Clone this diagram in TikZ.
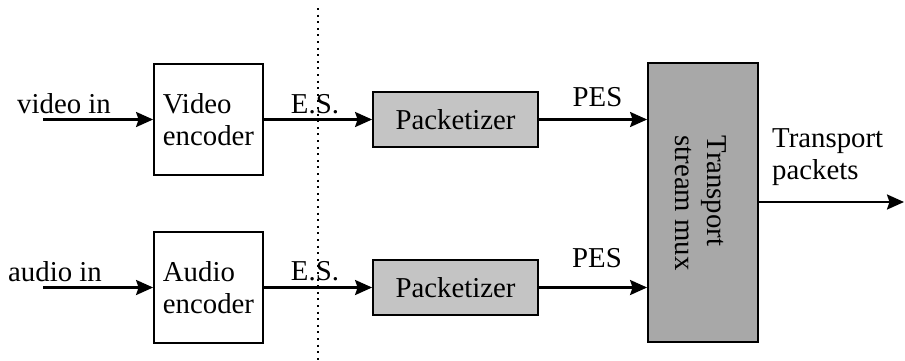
\documentclass[tikz,border=0pt]{standalone}
\usepackage{fontspec}
\setmainfont{Liberation Serif}
\usetikzlibrary{arrows.meta}
\definecolor{pktgray}{gray}{0.77}
\definecolor{muxgray}{gray}{0.66}
\begin{document}
\begin{tikzpicture}[x=1pt,y=-1pt,
  every node/.style={font=\fontsize{28.8}{32}\selectfont, inner sep=0pt},
  enc/.style={draw, line width=1.8pt, minimum width=109pt, minimum height=111pt, align=left},
  pkt/.style={draw, line width=1.8pt, fill=pktgray, minimum width=165pt, minimum height=55pt},
  mux/.style={draw, line width=1.8pt, fill=muxgray, minimum width=110pt, minimum height=279pt},
  conn/.style={line width=2.4pt, -{Stealth[length=17pt,width=15pt,inset=2.5pt]}},
  sep/.style={line width=2pt, dash pattern=on 2pt off 4.6pt}]
\useasboundingbox (0,0) rectangle (905,360);
% blocks
\node[enc] (venc) at (208.5,119.5) {Video\\encoder};
\node[enc] (aenc) at (208.5,287.5) {Audio\\encoder};
\node[pkt] (vpk) at (455.5,119.5) {Packetizer};
\node[pkt] (apk) at (455.5,287.5) {Packetizer};
\node[mux] (mux) at (703,202.5) {};
\node[rotate=-90, align=left] (muxt) at (701,203) {Transport\\stream mux};
% free ends
\coordinate (vin) at (43,119.5);
\coordinate (ain) at (43,287.5);
\coordinate (out) at (904,202);
\coordinate (dtop) at (318,8);
\coordinate (dbot) at (318,360);
% separator
\draw[sep] (dtop) -- (dbot);
% connectors
\draw[conn] (vin) -- (venc.west);
\draw[conn] (ain) -- (aenc.west);
\draw[conn] (venc.east) -- (vpk.west);
\draw[conn] (aenc.east) -- (apk.west);
\draw[conn] (vpk.east) -- (vpk.east -| mux.west);
\draw[conn] (apk.east) -- (apk.east -| mux.west);
\draw[conn] (mux.east |- out) -- (out);
% labels
\node[anchor=base west] (vinl) at (17,113) {video in};
\node[anchor=base west] (ainl) at (8,281) {audio in};
\node[anchor=base] (es1) at (315,113) {E.S.};
\node[anchor=base] (es2) at (315,280) {E.S.};
\node[anchor=base] (pes1) at (597.5,106) {PES};
\node[anchor=base] (pes2) at (597,267) {PES};
\node[anchor=north west, align=left] (tp) at (772,128) {Transport\\packets};
\end{tikzpicture}
\end{document}
